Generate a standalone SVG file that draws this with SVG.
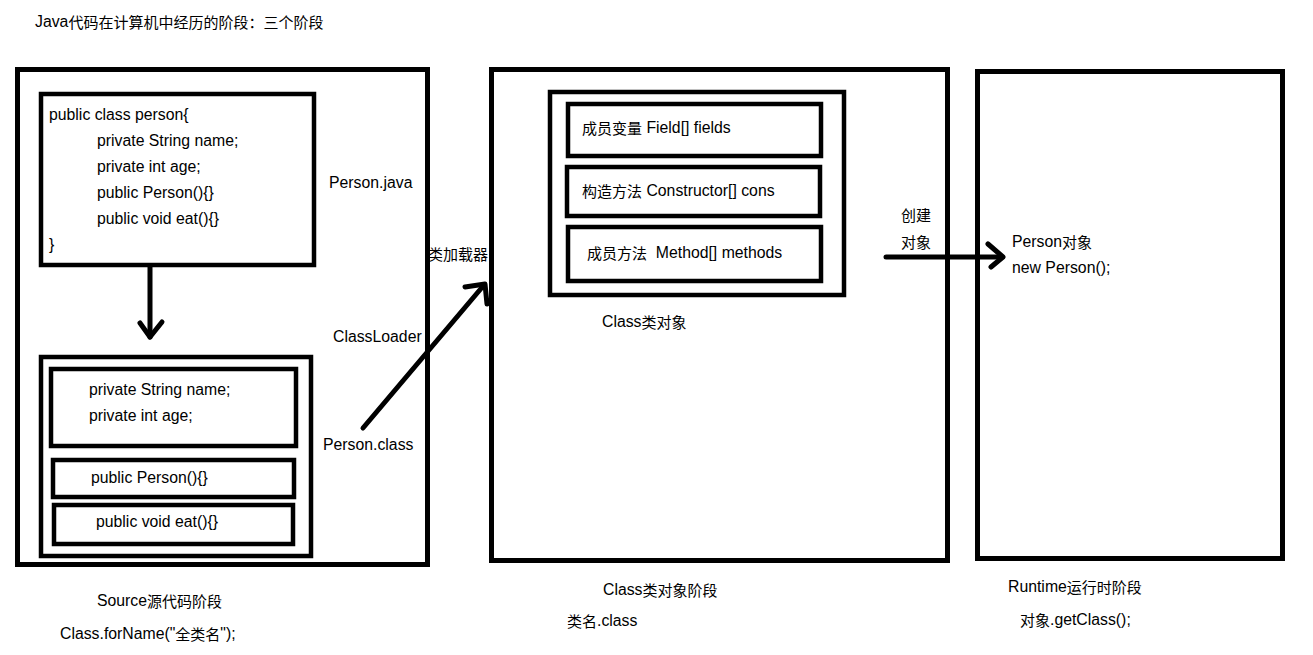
<svg xmlns="http://www.w3.org/2000/svg" width="1313" height="655" viewBox="0 0 1313 655">
<style>
text{font-family:"Liberation Sans","Noto Sans CJK SC",sans-serif;font-size:15.8px;fill:#000;dominant-baseline:central}
.c{font-family:"Noto Sans CJK SC",sans-serif;font-size:15px}
.box{fill:none;stroke:#000;stroke-width:5}
.ibox{fill:none;stroke:#000;stroke-width:4.5}
.ln{fill:none;stroke:#000;stroke-width:5;stroke-linecap:round;stroke-linejoin:round}
</style>
<rect width="1313" height="655" fill="#fff"/>
<text x="35" y="21">Java<tspan class="c">代码在计算机中经历的阶段：三个阶段</tspan></text>

<g id="source-stage">
<rect class="box" x="17.5" y="69.5" width="410" height="495"/>
<g id="source-code">
<rect class="ibox" x="41" y="94" width="273" height="171"/>
<text x="49" y="114">public class person{</text>
<text x="97" y="140">private String name;</text>
<text x="97" y="166">private int age;</text>
<text x="97" y="192">public Person(){}</text>
<text x="97" y="218">public void eat(){}</text>
<text x="49" y="244">}</text>
</g>
<g id="bytecode">
<rect class="ibox" x="41" y="357" width="270" height="199"/>
<rect class="ibox" x="51" y="369" width="245" height="77"/>
<text x="89" y="389">private String name;</text>
<text x="89" y="415">private int age;</text>
<rect class="ibox" x="53" y="460" width="241" height="37"/>
<text x="91" y="477">public Person(){}</text>
<rect class="ibox" x="54" y="505" width="239" height="39"/>
<text x="96" y="521">public void eat(){}</text>
</g>
<text x="329" y="182">Person.java</text>
<text x="333" y="336">ClassLoader</text>
<text x="323" y="444">Person.class</text>
<text x="97" y="600">Source<tspan class="c">源代码阶段</tspan></text>
<text x="60" y="633">Class.forName("<tspan class="c">全类名</tspan>");</text>
</g>

<g id="class-stage">
<text x="428" y="253" class="c">类加载器</text>
<rect class="box" x="491.5" y="69.5" width="456" height="491" fill="#fff"/>
<g id="class-object">
<rect class="ibox" x="550" y="92" width="294" height="203"/>
<rect class="ibox" x="568" y="104" width="253" height="52"/>
<text x="582" y="127"><tspan class="c">成员变量</tspan> Field[] fields</text>
<rect class="ibox" x="567" y="167" width="253" height="49"/>
<text x="582" y="190"><tspan class="c">构造方法</tspan> Constructor[] cons</text>
<rect class="ibox" x="568" y="227" width="253" height="54"/>
<text x="587" y="252" xml:space="preserve"><tspan class="c">成员方法</tspan>  Method[] methods</text>
</g>
<text x="602" y="321">Class<tspan class="c">类对象</tspan></text>
<text x="603" y="589">Class<tspan class="c">类对象阶段</tspan></text>
<text x="567" y="620"><tspan class="c">类名</tspan>.class</text>
</g>

<g id="runtime-stage">
<rect class="box" x="977.5" y="71.5" width="305" height="487"/>
<text x="1012" y="241">Person<tspan class="c">对象</tspan></text>
<text x="1012" y="267">new Person();</text>
<text x="1008" y="586">Runtime<tspan class="c">运行时阶段</tspan></text>
<text x="1020" y="619"><tspan class="c">对象</tspan>.getClass();</text>
</g>

<g id="connectors">
<path class="ln" d="M150 267 V337"/>
<path class="ln" d="M140 323 L150 337 L162 322"/>
<path class="ln" d="M363 428 L484 285"/>
<path class="ln" d="M465 287 L485 284 L487 304"/>
<path class="ln" d="M886 257 H1002"/>
<path class="ln" d="M988 244 L1003 257 L991 267"/>
<text x="901" y="214" class="c">创建</text>
<text x="901" y="241" class="c">对象</text>
</g>
</svg>
